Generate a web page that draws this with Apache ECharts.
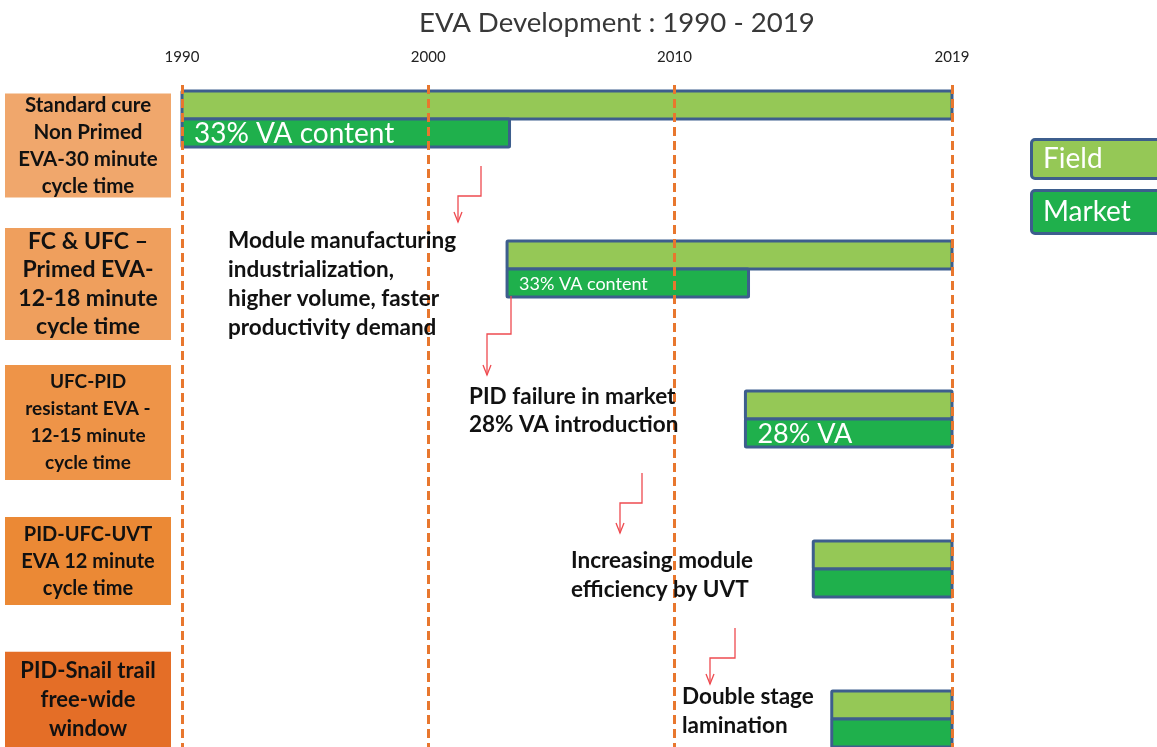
<!DOCTYPE html>
<html>
<head>
<meta charset="utf-8">
<title>EVA Development</title>
<script src="https://cdn.jsdelivr.net/npm/echarts@6/dist/echarts.min.js"></script>
<style>
    html, body { margin: 0; padding: 0; background: #fff; }
    #chart { width: 1157px; height: 747px; }
</style>
</head>
<body>
<div id="chart"></div>
<script>
    // stages, top to bottom
    var stages = [
        'Standard cure\nNon Primed\nEVA-30 minute\ncycle time',
        'FC & UFC –\nPrimed EVA-\n12-18 minute\ncycle time',
        'UFC-PID\nresistant EVA -\n12-15 minute\ncycle time',
        'PID-UFC-UVT\nEVA 12 minute\ncycle time',
        'PID-Snail trail\nfree-wide\nwindow'
    ];
    var fieldStart  = [1990, 2003.2, 2012.3, 2014.5, 2015.1];
    var fieldEnd    = [2019, 2019, 2019, 2019, 2019];
    var marketStart = [1990, 2003.2, 2012.3, 2014.5, 2015.1];
    var marketEnd   = [2003.3, 2012.4, 2019, 2019, 2019];
    var marketText  = ['33% VA content', '33% VA content', '28% VA', '', ''];
    var tickYears   = [1990, 2000, 2010, 2019];
    var notes = [
        'Module manufacturing\nindustrialization,\nhigher volume, faster\nproductivity demand',
        'PID failure in market\n28% VA introduction',
        'Increasing module\nefficiency by UVT',
        'Double stage\nlamination'
    ];

    // look
    var FONT = 'Lato, "Open Sans", sans-serif';
    var FIELD = '#95C856', MARKET = '#1FB04C', BORDER = '#3D5E8D';
    var DASH = '#E8772E', ARROW = '#EE4B50';
    var boxColors  = ['#F0A76C', '#EF9F5D', '#EE9448', '#EB8935', '#E46E27'];
    var boxHeights = [104, 112, 115, 88, 96];
    var boxFont    = [20.5, 23, 19, 20, 22];
    var boxLine    = [27, 28.5, 27, 27, 29];
    var marketFont = [28, 18, 27, 0, 0];
    var noteAt = [[228, 226, 29], [469, 383, 28], [571, 546, 29], [682, 682, 29]];
    var arrowPaths = [
        [[481, 166], [481, 196], [458, 196], [458, 222]],
        [[511, 296], [511, 334], [487, 334], [487, 375]],
        [[642, 473], [642, 503], [620, 503], [620, 533]],
        [[735, 628], [735, 658], [710, 658], [710, 684]]
    ];

    // the source draws 2010-2019 wider than the earlier decades,
    // so that part of the time axis is stretched
    var STRETCH_FROM = 2010, STRETCH = 1.252;
    function toAxis(y) { return y <= STRETCH_FROM ? y : STRETCH_FROM + (y - STRETCH_FROM) * STRETCH; }
    function fromAxis(v) { return v <= STRETCH_FROM ? v : STRETCH_FROM + (v - STRETCH_FROM) / STRETCH; }

    var BAR_H = 28;
    function barRenderer(isField) {
        return function (params, api) {
            var row = api.value(2);
            var a = api.coord([api.value(0), row]);
            var b = api.coord([api.value(1), row]);
            var y = isField ? a[1] - BAR_H : a[1];
            var kids = [{
                type: 'rect',
                shape: { x: a[0], y: y, width: b[0] - a[0], height: BAR_H, r: 1 },
                style: { fill: api.visual('color'), stroke: BORDER, lineWidth: 3 }
            }];
            if (!isField && marketText[row]) {
                kids.push({
                    type: 'text',
                    style: {
                        x: a[0] + 12, y: y + BAR_H / 2 + 1, text: marketText[row],
                        fill: '#fff', font: marketFont[row] + 'px ' + FONT,
                        verticalAlign: 'middle'
                    }
                });
            }
            return { type: 'group', children: kids };
        };
    }

    var graphics = [];
    notes.forEach(function (t, i) {
        graphics.push({
            type: 'text', x: noteAt[i][0], y: noteAt[i][1], z: 100,
            style: { text: t, fill: '#111', font: 'bold 22.5px ' + FONT, lineHeight: noteAt[i][2] }
        });
    });
    arrowPaths.forEach(function (p) {
        var tip = p[p.length - 1];
        graphics.push({ type: 'polyline', z: 100, shape: { points: p }, style: { stroke: ARROW, lineWidth: 1.3, fill: null } });
        graphics.push({ type: 'polyline', z: 100, shape: { points: [[tip[0] - 4, tip[1] - 10], tip, [tip[0] + 4, tip[1] - 10]] },
            style: { stroke: ARROW, lineWidth: 1.3, fill: null } });
    });

    // 1990 sits at x=182 and 2019 at x=952; axis runs a little past 2019
    var AXIS_MAX = 2021.5;
    var pxPerUnit = (952 - 182) / (toAxis(2019) - 1990);
    var gridRight = 1157 - (952 + (AXIS_MAX - toAxis(2019)) * pxPerUnit);

    var myChart = echarts.init(document.getElementById('chart'));
    var option = {
        backgroundColor: '#fff',
        animation: false,
        title: {
            text: 'EVA Development : 1990 - 2019',
            left: 414, top: 4,
            textStyle: { fontFamily: FONT, fontWeight: 'normal', fontSize: 27.6, color: '#383838' }
        },
        legend: {
            orient: 'vertical', left: 1023, top: 133, itemGap: 9,
            icon: 'none', itemWidth: 0, selectedMode: false,
            data: [
                { name: 'Field', textStyle: { backgroundColor: FIELD, height: 36, lineHeight: 36 } },
                { name: 'Market', textStyle: { backgroundColor: MARKET, height: 40, lineHeight: 40 } }
            ],
            textStyle: {
                color: '#fff', fontSize: 28, fontFamily: FONT,
                borderColor: BORDER, borderWidth: 3, borderRadius: 2,
                width: 116, padding: [0, 0, 0, 10]
            }
        },
        grid: [
            { left: 182, right: gridRight, top: 85, bottom: 0 },
            { left: 5, width: 166, top: 85, bottom: 0 }
        ],
        xAxis: [
            {
                type: 'value', gridIndex: 0, position: 'top',
                min: 1990, max: AXIS_MAX,
                axisLine: { show: false }, axisTick: { show: false }, splitLine: { show: false },
                axisLabel: {
                    customValues: tickYears.map(toAxis),
                    formatter: function (v) { return String(Math.round(fromAxis(v))); },
                    margin: 20, fontSize: 15, color: '#222', fontFamily: FONT
                }
            },
            { type: 'value', gridIndex: 1, min: 0, max: 1, show: false }
        ],
        yAxis: [
            { type: 'value', gridIndex: 0, inverse: true, min: -0.227, max: 4.187, show: false },
            { type: 'value', gridIndex: 1, inverse: true, min: -0.4375, max: 4.342, show: false }
        ],
        graphic: graphics,
        series: [
            {
                type: 'line', data: [], silent: true, z: 1,
                markLine: {
                    symbol: 'none', silent: true, label: { show: false },
                    lineStyle: { color: DASH, type: [9, 5], width: 3 },
                    data: tickYears.map(function (y) { return { xAxis: toAxis(y) }; })
                }
            },
            {
                name: 'Field', type: 'custom', z: 3, itemStyle: { color: FIELD },
                renderItem: barRenderer(true), encode: { x: [0, 1], y: 2 },
                data: stages.map(function (s, i) { return [toAxis(fieldStart[i]), toAxis(fieldEnd[i]), i]; })
            },
            {
                name: 'Market', type: 'custom', z: 4, itemStyle: { color: MARKET },
                renderItem: barRenderer(false), encode: { x: [0, 1], y: 2 },
                data: stages.map(function (s, i) { return [toAxis(marketStart[i]), toAxis(marketEnd[i]), i]; })
            },
            {
                type: 'custom', xAxisIndex: 1, yAxisIndex: 1, silent: true, encode: { x: 0, y: 1 },
                data: stages.map(function (s, i) { return [0, i]; }),
                renderItem: function (params, api) {
                    var i = api.value(1);
                    var c = api.coord([0, i]);
                    var w = api.size([1, 0])[0];
                    var h = boxHeights[i];
                    return {
                        type: 'group',
                        children: [
                            { type: 'rect', shape: { x: c[0], y: c[1] - h / 2, width: w, height: h }, style: { fill: boxColors[i] } },
                            { type: 'text', style: {
                                x: c[0] + w / 2, y: c[1], text: stages[i], align: 'center', verticalAlign: 'middle',
                                fill: '#111', font: 'bold ' + boxFont[i] + 'px ' + FONT, lineHeight: boxLine[i]
                            } }
                        ]
                    };
                }
            }
        ]
    };
    myChart.setOption(option);
</script>
</body>
</html>
